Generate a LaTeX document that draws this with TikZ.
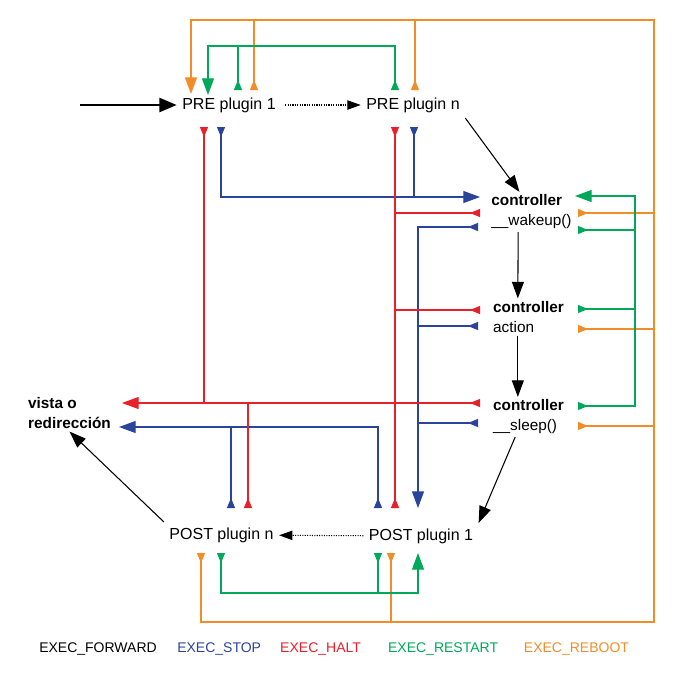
\documentclass[tikz,border=0pt]{standalone}
\usepackage{fontspec}
\setmainfont{Liberation Sans}
\usetikzlibrary{arrows.meta,positioning}
\definecolor{rebootc}{HTML}{F28C28}
\definecolor{restartc}{HTML}{00A859}
\definecolor{stopc}{HTML}{2B449B}
\definecolor{haltc}{HTML}{E8202A}
\tikzset{
  outmark/.tip={Triangle[reversed,length=7.5pt,width=6pt]},
  inmark/.tip={Triangle[length=12.5pt,width=9pt]}
}
\begin{document}
\begin{tikzpicture}[x=0.75pt,y=-0.75pt,
  plug/.style={inner sep=4pt, font=\fontsize{12}{14}\selectfont},
  ctrl/.style={inner sep=2pt, align=left, font=\fontsize{11.5}{15}\selectfont},
  leg/.style={inner sep=0pt, font=\fontsize{10.5}{12}\selectfont},
  arr/.style={-{Triangle[length=12.5pt,width=9pt]}, line width=0.8pt},
  arrthick/.style={-{Triangle[length=13pt,width=10.5pt]}, line width=1.8pt},
  dotarr/.style={-{Triangle[length=10pt,width=7pt]}, line width=0.8pt, densely dotted},
  rebootln/.style={draw=rebootc, line width=0.8pt},
  restartln/.style={draw=restartc, line width=0.8pt},
  stopln/.style={draw=stopc, line width=0.8pt},
  haltln/.style={draw=haltc, line width=0.8pt}]
\useasboundingbox (0,0) rectangle (678,676);

% nodes
\node[plug] (pre1) at (229,105) {PRE plugin 1};
\node[plug] (pren) at (413,105) {PRE plugin n};
\node[ctrl] (wake) at (531.5,212) {\textbf{controller}\\\_\_wakeup()};
\node[ctrl] (act) at (528.5,317) {\textbf{controller}\\action};
\node[ctrl] (sleep) at (528.5,417) {\textbf{controller}\\\_\_sleep()};
\node[ctrl, font=\bfseries\fontsize{11.5}{15}\selectfont] (vista) at (69.5,413) {vista o\\redirección};
\node[plug] (postn) at (221.5,535) {POST plugin n};
\node[plug] (post1) at (421,536) {POST plugin 1};
\coordinate (in) at (80,105);

% EXEC_FORWARD
\draw[arrthick] (in) -- (pre1);
\draw[dotarr, shorten <=3pt] (pre1) -- (pren);
\draw[arr] (pren.south east) -- ([xshift=-9pt]wake.north);
\draw[arr] ([xshift=-10pt]wake.south) -- ([xshift=-8pt]act.north);
\draw[arr] ([xshift=-8pt]act.south) -- ([xshift=-8pt]sleep.north);
\draw[arr] ([xshift=-10pt]sleep.south) -- (post1.north east);
\draw[dotarr] (post1) -- (postn);
\draw[arr] (postn.north west) -- (vista.south);

% ports
\coordinate (rbNE) at (654,20);
\coordinate (rbSE) at (654,622);
\coordinate (pre1-rb-in) at (191,94);
\coordinate (pre1-rb-out) at (254,90);
\coordinate (pren-rb-out) at (415,90);
\coordinate (wake-rb-out) at (578,213);
\coordinate (act-rb-out) at (578,329);
\coordinate (sleep-rb-out) at (578,426);
\coordinate (postn-rb-out) at (201,553);
\coordinate (post1-rb-out) at (391,553);

\coordinate (rsTop) at (208,46);
\coordinate (rsNE) at (635,196);
\coordinate (rsBot) at (418,593);
\coordinate (pre1-rs-in) at (208,95);
\coordinate (pre1-rs-out) at (238,90);
\coordinate (pren-rs-out) at (395,90);
\coordinate (wake-rs-in) at (575,196);
\coordinate (wake-rs-out) at (578,230);
\coordinate (act-rs-out) at (578,309);
\coordinate (sleep-rs-out) at (578,406);
\coordinate (postn-rs-out) at (221,553);
\coordinate (post1-rs-out) at (378,553);
\coordinate (post1-rs-in) at (418,553);

\coordinate (pre1-st-out) at (221,127);
\coordinate (pren-st-out) at (414,127);
\coordinate (wake-st-in) at (480,197);
\coordinate (wake-st-out) at (478,227);
\coordinate (act-st-out) at (478,326);
\coordinate (sleep-st-out) at (478,423);
\coordinate (post1-st-in) at (418,508);
\coordinate (post1-st-out) at (378,508);
\coordinate (postn-st-out) at (231,508);
\coordinate (vista-st-in) at (119,427);

\coordinate (pre1-ht-out) at (204,127);
\coordinate (pren-ht-out) at (395,127);
\coordinate (wake-ht-out) at (480,213);
\coordinate (act-ht-out) at (480,310);
\coordinate (sleep-ht-out) at (480,403);
\coordinate (post1-ht-out) at (395,508);
\coordinate (postn-ht-out) at (248,508);
\coordinate (vista-ht-in) at (122,403);

% EXEC_REBOOT
\draw[rebootln, outmark-inmark] (postn-rb-out) |- (rbSE) -- (rbNE) -| (pre1-rb-in);
\draw[rebootln, outmark-] (post1-rb-out) -- (post1-rb-out |- rbSE);
\draw[rebootln, outmark-] (pre1-rb-out) -- (pre1-rb-out |- rbNE);
\draw[rebootln, outmark-] (pren-rb-out) -- (pren-rb-out |- rbNE);
\foreach \n in {wake,act,sleep}
  \draw[rebootln, outmark-] (\n-rb-out) -- (\n-rb-out -| rbNE);

% EXEC_RESTART
\draw[restartln, outmark-inmark] (pren-rs-out) |- (rsTop) -- (pre1-rs-in);
\draw[restartln, outmark-] (pre1-rs-out) -- (pre1-rs-out |- rsTop);
\draw[restartln, outmark-inmark] (sleep-rs-out) -| (rsNE) -- (wake-rs-in);
\foreach \n in {wake,act}
  \draw[restartln, outmark-] (\n-rs-out) -- (\n-rs-out -| rsNE);
\draw[restartln, outmark-inmark] (postn-rs-out) |- (rsBot) -- (post1-rs-in);
\draw[restartln, outmark-] (post1-rs-out) -- (post1-rs-out |- rsBot);

% EXEC_STOP
\draw[stopln, outmark-inmark] (pre1-st-out) |- (wake-st-in);
\draw[stopln, outmark-] (pren-st-out) -- (pren-st-out |- wake-st-in);
\draw[stopln, outmark-inmark] (wake-st-out) -| (post1-st-in);
\foreach \n in {act,sleep}
  \draw[stopln, outmark-] (\n-st-out) -- (\n-st-out -| post1-st-in);
\draw[stopln, outmark-inmark] (post1-st-out) |- (vista-st-in);
\draw[stopln, outmark-] (postn-st-out) -- (postn-st-out |- vista-st-in);

% EXEC_HALT
\draw[haltln, outmark-inmark] (sleep-ht-out) -- (vista-ht-in);
\draw[haltln, outmark-] (pre1-ht-out) -- (pre1-ht-out |- vista-ht-in);
\draw[haltln, outmark-outmark] (pren-ht-out) -- (post1-ht-out);
\foreach \n in {wake,act}
  \draw[haltln, outmark-] (\n-ht-out) -- (\n-ht-out -| pren-ht-out);
\draw[haltln, outmark-] (postn-ht-out) -- (postn-ht-out |- vista-ht-in);

% legend
\node[leg] (legfwd) at (98,649) {EXEC\_FORWARD};
\node[leg, text=stopc, right=15pt of legfwd] (legstop) {EXEC\_STOP};
\node[leg, text=haltc, right=14pt of legstop] (leghalt) {EXEC\_HALT};
\node[leg, text=restartc, right=20pt of leghalt] (legrestart) {EXEC\_RESTART};
\node[leg, text=rebootc, right=19pt of legrestart] (legreboot) {EXEC\_REBOOT};
\end{tikzpicture}
\end{document}
